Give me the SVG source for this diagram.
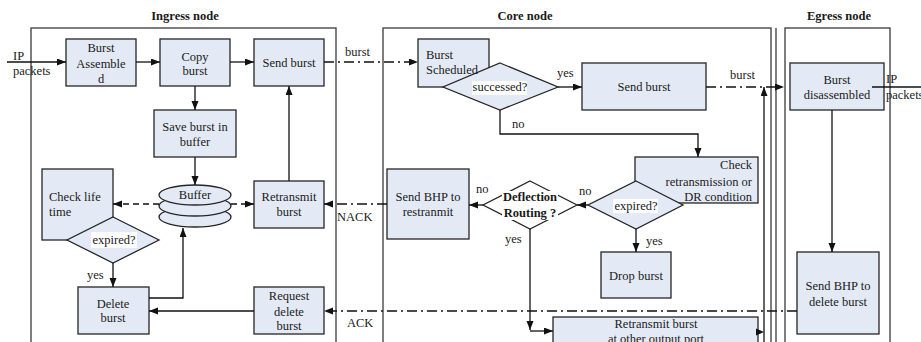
<svg xmlns="http://www.w3.org/2000/svg" width="921" height="342" viewBox="0 0 921 342" font-family="'Liberation Serif', 'DejaVu Serif', serif">
  <defs>
    <style>
      .frame { fill: none; stroke: #3a3a3a; stroke-width: 1.3; }
      .box { fill: #e4eaf5; stroke: #262626; stroke-width: 1.3; }
      .wbox { fill: #ffffff; stroke: #262626; stroke-width: 1.3; }
      .ln { fill: none; stroke: #111111; stroke-width: 1.3; }
      .dd { stroke-dasharray: 10 4 2 4; }
      .ds { stroke-dasharray: 6 4; }
      .hl { fill: #ffffff; stroke: none; }
      text { font-family: 'Liberation Serif', 'DejaVu Serif', serif; font-size: 12.5px; fill: #1a1a1a; }
      .c { text-anchor: middle; }
      .r { text-anchor: end; }
      .b { font-weight: bold; }
    </style>
    <marker id="arr" markerUnits="userSpaceOnUse" markerWidth="10" markerHeight="8" refX="9" refY="3.5" orient="auto">
      <path d="M0,0 L9,3.5 L0,7 z" fill="#111111"/>
    </marker>
  </defs>

  <!-- section frames and titles -->
  <g id="frames">
    <rect class="frame" x="31" y="28" width="305" height="330"/>
    <rect class="frame" x="383" y="28" width="388" height="330"/>
    <line class="frame" x1="776" y1="28" x2="776" y2="342"/>
    <rect class="frame" x="785" y="28" width="105" height="330"/>
    <text class="c b" x="185" y="20">Ingress node</text>
    <text class="c b" x="525" y="20">Core node</text>
    <text class="c b" x="839" y="20">Egress node</text>
  </g>

  <!-- ingress node -->
  <g id="burst-assembled">
    <rect class="box" x="66" y="39" width="70" height="47"/>
    <text class="c" x="101" y="52">Burst</text>
    <text class="c" x="101" y="68">Assemble</text>
    <text class="c" x="101" y="83">d</text>
  </g>
  <g id="copy-burst">
    <rect class="box" x="160" y="39" width="70" height="47"/>
    <text class="c" x="195" y="61">Copy</text>
    <text class="c" x="195" y="75">burst</text>
  </g>
  <g id="send-burst-in">
    <rect class="box" x="254" y="39" width="70" height="47"/>
    <text class="c" x="289" y="67">Send burst</text>
  </g>
  <g id="save-burst">
    <rect class="box" x="154" y="110" width="82" height="47"/>
    <text class="c" x="195" y="131">Save burst in</text>
    <text class="c" x="195" y="146">buffer</text>
  </g>
  <g id="buffer">
    <ellipse class="box" cx="195" cy="217" rx="36" ry="10"/>
    <ellipse class="box" cx="195" cy="206" rx="36" ry="10"/>
    <ellipse class="box" cx="195" cy="195" rx="36" ry="10"/>
    <text class="c" x="195" y="199">Buffer</text>
  </g>
  <g id="retransmit-burst">
    <rect class="box" x="254" y="181" width="70" height="47"/>
    <text class="c" x="289" y="201">Retransmit</text>
    <text class="c" x="289" y="216">burst</text>
  </g>
  <g id="check-life">
    <rect class="box" x="42" y="169" width="71" height="71"/>
    <polygon class="box" points="113,217 159,240 113,263 67,240"/>
    <rect class="hl" x="91" y="232" width="46" height="16"/>
    <text x="49" y="201">Check life</text>
    <text x="49" y="216">time</text>
    <text class="c" x="114" y="244">expired?</text>
  </g>
  <g id="delete-burst">
    <rect class="box" x="78" y="287" width="71" height="47"/>
    <text class="c" x="113" y="308">Delete</text>
    <text class="c" x="113" y="322">burst</text>
  </g>
  <g id="request-delete">
    <rect class="box" x="254" y="287" width="70" height="47"/>
    <text class="c" x="289" y="300">Request</text>
    <text class="c" x="289" y="316">delete</text>
    <text class="c" x="289" y="330">burst</text>
  </g>

  <!-- core node -->
  <g id="burst-scheduled">
    <rect class="box" x="418" y="39" width="71" height="48"/>
    <polygon class="box" points="500,63 558,87 500,110 443,87"/>
    <rect class="hl" x="472" y="81" width="55" height="14"/>
    <text x="426" y="59">Burst</text>
    <text x="426" y="74">Scheduled</text>
    <text class="c" x="500" y="91">successed?</text>
  </g>
  <g id="send-burst-core">
    <rect class="box" x="582" y="63" width="124" height="47"/>
    <text class="c" x="644" y="91">Send burst</text>
  </g>
  <g id="check-retransmission">
    <rect class="box" x="635" y="157" width="123" height="46"/>
    <polygon class="box" points="636,181 683,205 636,229 588,205"/>
    <rect class="hl" x="613" y="199" width="45" height="14"/>
    <text class="r" x="752" y="169">Check</text>
    <text class="r" x="752" y="186">retransmission or</text>
    <text class="r" x="752" y="201">DR condition</text>
    <text class="c" x="636" y="210">expired?</text>
  </g>
  <g id="deflection-routing">
    <polygon class="wbox" points="530,181 577,205 530,229 483,205"/>
    <rect class="hl" x="502" y="191" width="56" height="29"/>
    <text class="c b" x="530" y="201">Deflection</text>
    <text class="c b" x="530" y="217">Routing ?</text>
  </g>
  <g id="send-bhp-retransmit">
    <rect class="box" x="387" y="169" width="82" height="70"/>
    <text class="c" x="428" y="201">Send BHP to</text>
    <text class="c" x="428" y="216">restranmit</text>
  </g>
  <g id="drop-burst">
    <rect class="box" x="601" y="252" width="70" height="46"/>
    <text class="c" x="636" y="280">Drop burst</text>
  </g>
  <g id="retransmit-other-port">
    <rect class="box" x="553" y="317" width="205" height="40"/>
    <text class="c" x="656" y="328">Retransmit burst</text>
    <text class="c" x="656" y="343">at other output port</text>
  </g>

  <!-- egress node -->
  <g id="burst-disassembled">
    <rect class="box" x="790" y="63" width="94" height="47"/>
    <text class="c" x="837" y="84">Burst</text>
    <text class="c" x="837" y="99">disassembled</text>
  </g>
  <g id="send-bhp-delete">
    <rect class="box" x="797" y="252" width="82" height="82"/>
    <text class="c" x="838" y="290">Send BHP to</text>
    <text class="c" x="838" y="306">delete burst</text>
  </g>

  <!-- connectors -->
  <g id="connectors">
    <path class="ln" d="M7,62 H66" marker-end="url(#arr)"/>
    <path class="ln" d="M136,62 H160" marker-end="url(#arr)"/>
    <path class="ln" d="M230,62 H254" marker-end="url(#arr)"/>
    <path class="ln" d="M195,86 V110" marker-end="url(#arr)"/>
    <path class="ln" d="M195,157 V185" marker-end="url(#arr)"/>
    <path class="ln ds" d="M159,204 H113" marker-end="url(#arr)"/>
    <path class="ln ds" d="M231,204 H254" marker-end="url(#arr)"/>
    <path class="ln" d="M289,181 V86" marker-end="url(#arr)"/>
    <path class="ln" d="M113,263 V287" marker-end="url(#arr)"/>
    <path class="ln" d="M149,298 H183 V228" marker-end="url(#arr)"/>
    <path class="ln" d="M254,311 H149" marker-end="url(#arr)"/>
    <path class="ln dd" d="M324,62 H418" marker-end="url(#arr)"/>
    <path class="ln dd" d="M387,204 H324" marker-end="url(#arr)"/>
    <path class="ln dd" d="M797,311 H324" marker-end="url(#arr)"/>
    <path class="ln" d="M558,87 H582" marker-end="url(#arr)"/>
    <path class="ln" d="M500,110 V134 H698 V157" marker-end="url(#arr)"/>
    <path class="ln" d="M588,205 H577" marker-end="url(#arr)"/>
    <path class="ln" d="M483,205 H469" marker-end="url(#arr)"/>
    <path class="ln" d="M636,229 V252" marker-end="url(#arr)"/>
    <path class="ln" d="M530,229 V330" marker-end="url(#arr)"/>
    <path class="ln" d="M530,331 H553" marker-end="url(#arr)"/>
    <path class="ln dd" d="M706,87 H784" marker-end="url(#arr)"/>
    <path class="ln" d="M764,342 V87" marker-end="url(#arr)"/>
    <path d="M756,328.5 L764,332 L756,335.5 z" fill="#111111"/>
    <path class="ln" d="M832,110 V252" marker-end="url(#arr)"/>
    <path class="ln" d="M872,87 H921"/>

    <text x="13" y="60">IP</text>
    <text x="13" y="75">packets</text>
    <text x="345" y="56">burst</text>
    <text x="337" y="221">NACK</text>
    <text x="347" y="327">ACK</text>
    <text x="87" y="279">yes</text>
    <text x="557" y="77">yes</text>
    <text x="512" y="128">no</text>
    <text x="730" y="79">burst</text>
    <text x="579" y="195">no</text>
    <text x="476" y="193">no</text>
    <text x="505" y="243">yes</text>
    <text x="646" y="245">yes</text>
    <text x="886" y="83">IP</text>
    <text x="886" y="99">packets</text>
  </g>
</svg>
